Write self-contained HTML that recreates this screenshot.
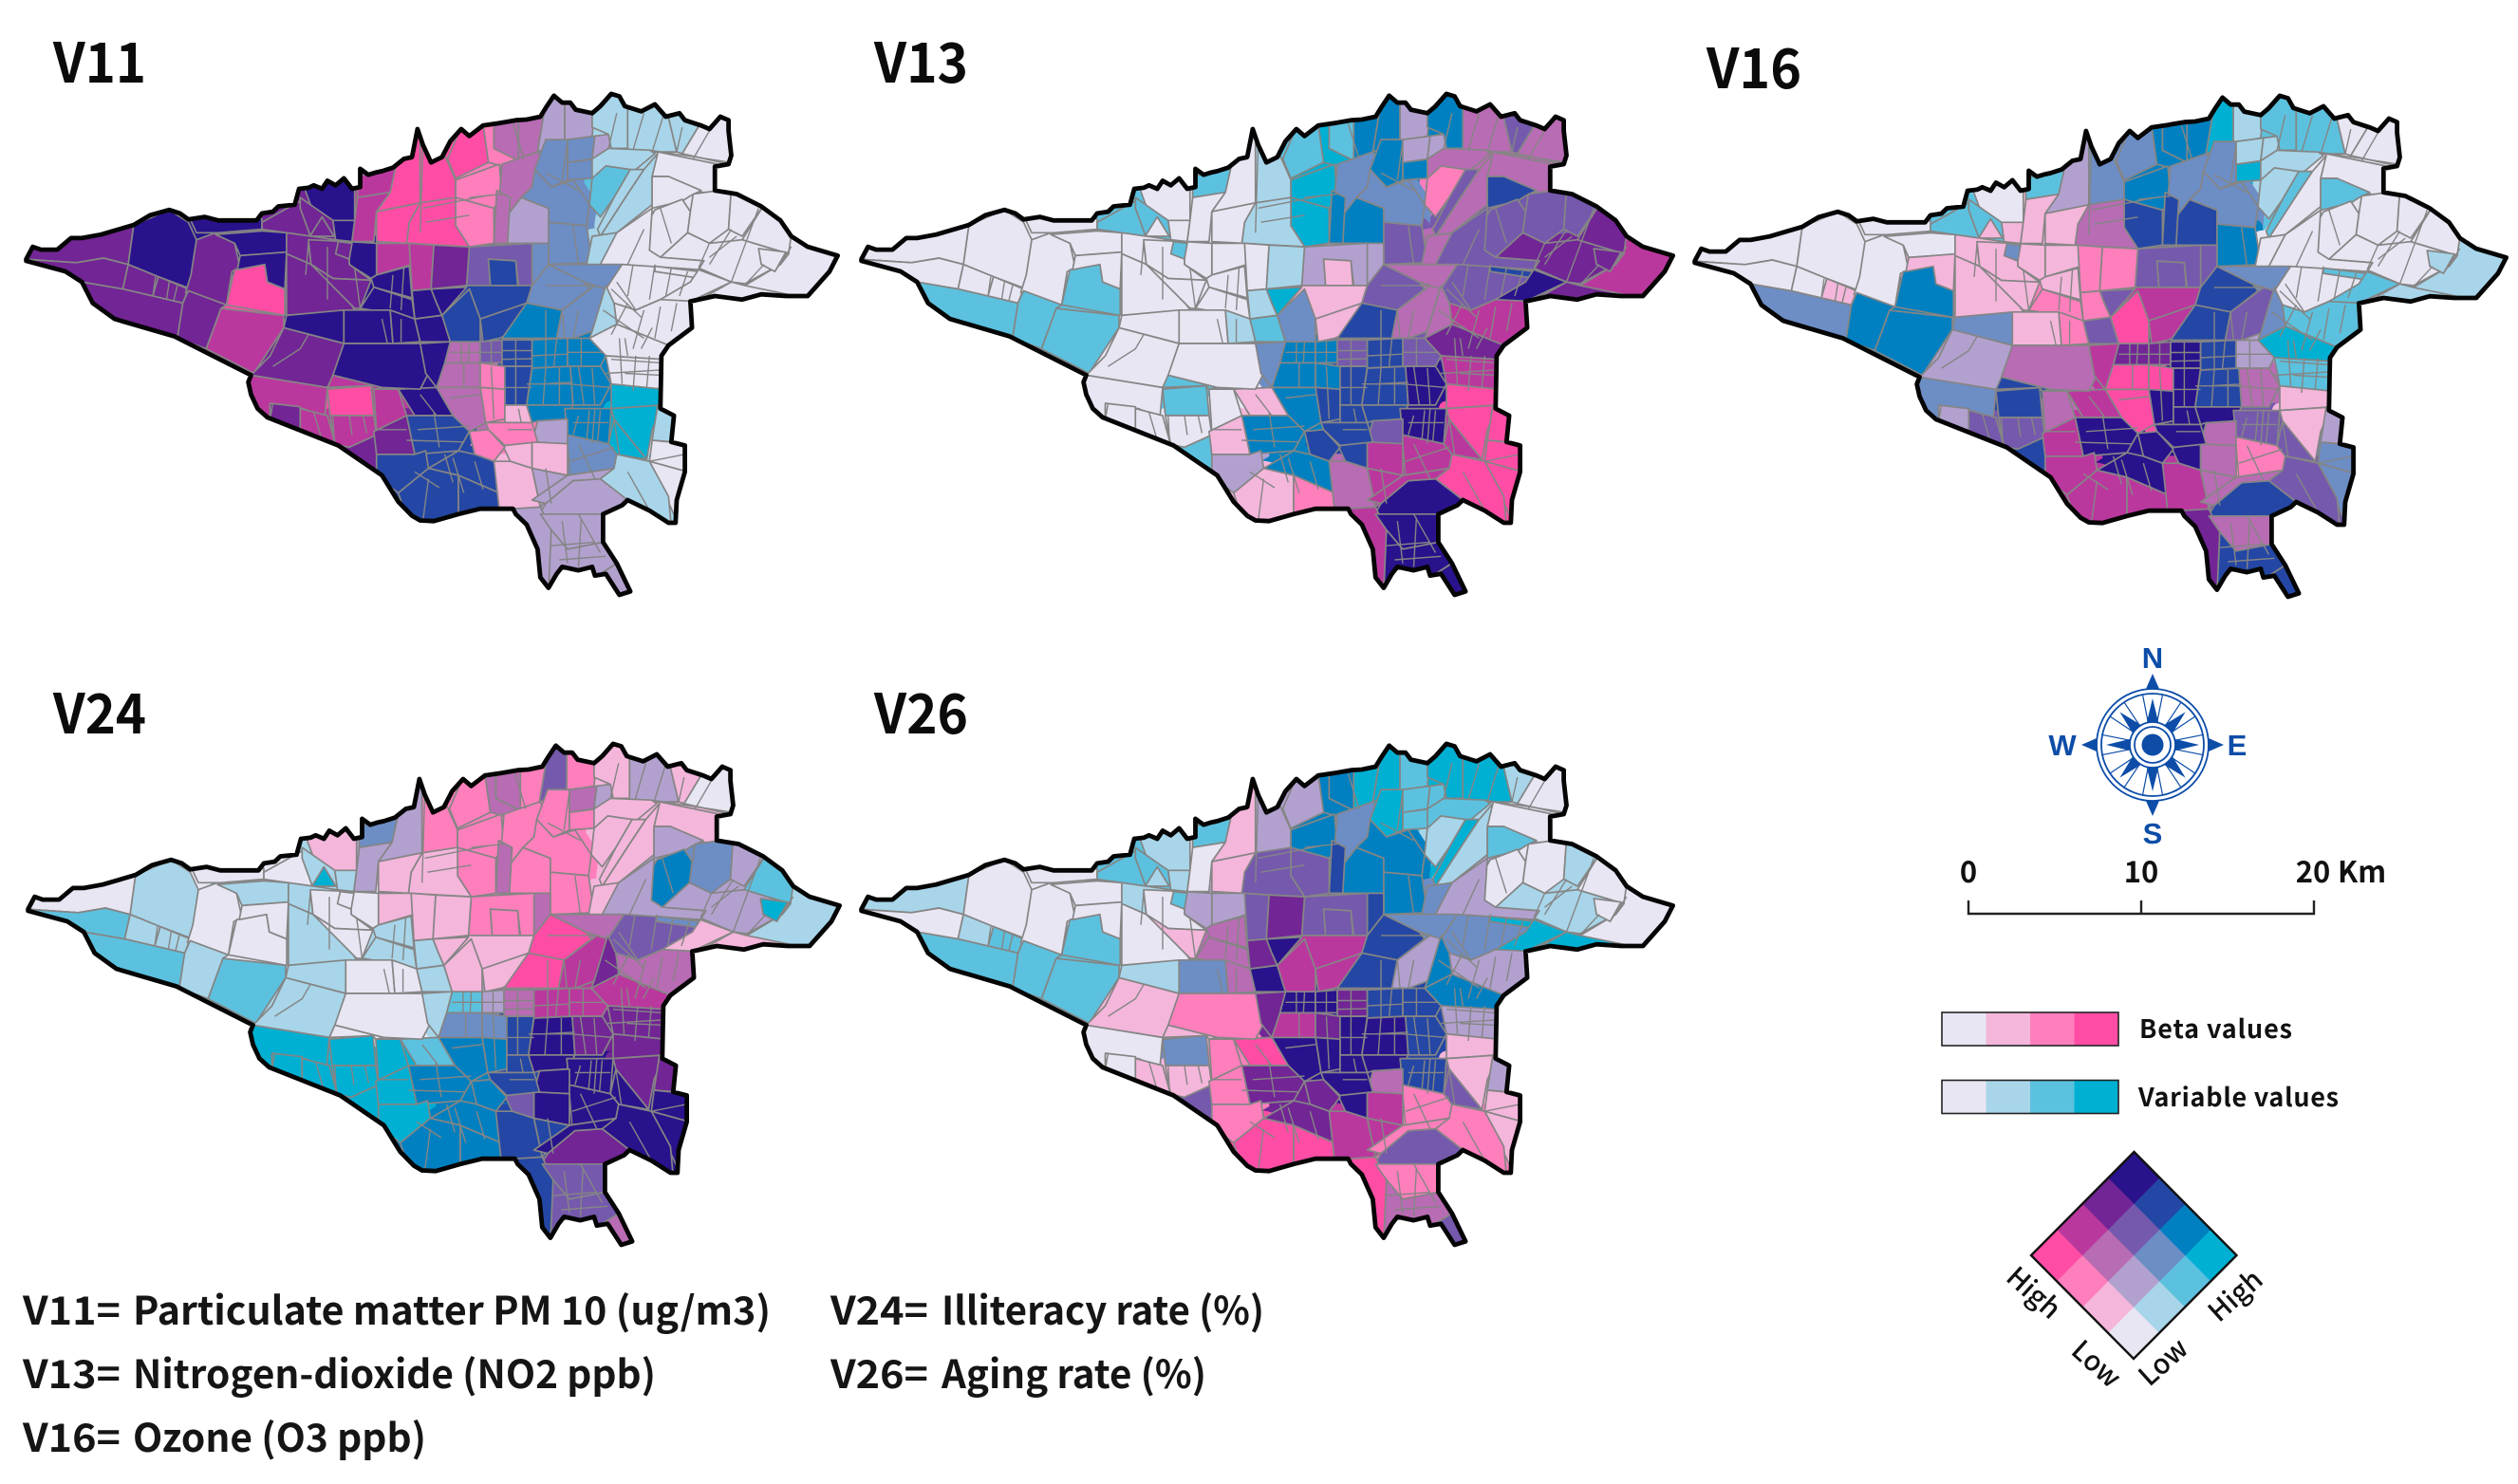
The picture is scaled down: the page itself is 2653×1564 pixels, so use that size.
<!DOCTYPE html>
<html lang="en">
<head>
<meta charset="utf-8">
<title>Bivariate maps of beta values and variable values</title>
<style>
html,body{margin:0;padding:0;background:#fff;}
svg{display:block;}
.title{font-family:"Noto Sans CJK JP","Liberation Sans",sans-serif;font-size:58px;font-weight:700;fill:#0b0b0b;}
.note{font-family:"Noto Sans CJK JP","Liberation Sans",sans-serif;font-size:41px;font-weight:700;fill:#151515;}
.scale{font-family:"Noto Sans CJK JP","Liberation Sans",sans-serif;font-size:31px;font-weight:700;fill:#111;}
.leg{font-family:"Noto Sans CJK JP","Liberation Sans",sans-serif;font-size:27px;font-weight:700;fill:#111;}
.axis{font-family:"Noto Sans CJK JP","Liberation Sans",sans-serif;font-size:29px;font-weight:500;fill:#111;}
.cp{font-family:"Liberation Sans",sans-serif;font-size:31px;font-weight:700;fill:#0d4da8;}
</style>
</head>
<body>
<svg id="figure" xmlns="http://www.w3.org/2000/svg" width="2653" height="1564" viewBox="0 0 2653 1564">
  <rect width="2653" height="1564" fill="#ffffff"/>
  <defs id="defs"></defs>
  <g id="maps"></g>

  <text class="title" x="56" y="87" textLength="98" lengthAdjust="spacingAndGlyphs">V11</text>
  <text class="title" x="921" y="87" textLength="99" lengthAdjust="spacingAndGlyphs">V13</text>
  <text class="title" x="1798" y="93" textLength="100" lengthAdjust="spacingAndGlyphs">V16</text>
  <text class="title" x="56" y="773" textLength="98" lengthAdjust="spacingAndGlyphs">V24</text>
  <text class="title" x="921" y="773" textLength="99" lengthAdjust="spacingAndGlyphs">V26</text>

  <text class="note" y="1396"><tspan x="24" textLength="103" lengthAdjust="spacingAndGlyphs">V11=</tspan> <tspan x="140" textLength="672" lengthAdjust="spacingAndGlyphs">Particulate matter PM 10 (ug/m3)</tspan></text>
  <text class="note" y="1463"><tspan x="24" textLength="103" lengthAdjust="spacingAndGlyphs">V13=</tspan> <tspan x="140" textLength="551" lengthAdjust="spacingAndGlyphs">Nitrogen-dioxide (NO2 ppb)</tspan></text>
  <text class="note" y="1530"><tspan x="24" textLength="103" lengthAdjust="spacingAndGlyphs">V16=</tspan> <tspan x="140" textLength="309" lengthAdjust="spacingAndGlyphs">Ozone (O3 ppb)</tspan></text>
  <text class="note" y="1396"><tspan x="875" textLength="103" lengthAdjust="spacingAndGlyphs">V24=</tspan> <tspan x="992" textLength="340" lengthAdjust="spacingAndGlyphs">Illiteracy rate (%)</tspan></text>
  <text class="note" y="1463"><tspan x="875" textLength="103" lengthAdjust="spacingAndGlyphs">V26=</tspan> <tspan x="992" textLength="279" lengthAdjust="spacingAndGlyphs">Aging rate (%)</tspan></text>

  <g id="compass"></g>
  <text class="cp" x="2268" y="704" text-anchor="middle">N</text>
  <text class="cp" x="2268" y="889" text-anchor="middle">S</text>
  <text class="cp" x="2173" y="796" text-anchor="middle">W</text>
  <text class="cp" x="2357" y="796" text-anchor="middle">E</text>

  <g>
    <path d="M2074 949V963H2438V949M2256 949V963" fill="none" stroke="#222" stroke-width="2.4"/>
    <text class="scale" x="2074" y="930" text-anchor="middle">0</text>
    <text class="scale" x="2256" y="930" text-anchor="middle">10</text>
    <text class="scale" x="2437" y="930" text-anchor="middle">20</text>
    <text class="scale" x="2463" y="930">Km</text>
  </g>

  <g id="legendBars"></g>
  <text class="leg" x="2254" y="1094" textLength="161" lengthAdjust="spacing">Beta values</text>
  <text class="leg" x="2253" y="1166" textLength="211" lengthAdjust="spacing">Variable values</text>

  <g id="legendDiamond"></g>
  <text class="axis" text-anchor="middle" transform="translate(2136 1370) rotate(42)">High</text>
  <text class="axis" text-anchor="middle" transform="translate(2202 1445) rotate(42)">Low</text>
  <text class="axis" text-anchor="middle" transform="translate(2286 1443) rotate(-42)">Low</text>
  <text class="axis" text-anchor="middle" transform="translate(2362 1373) rotate(-42)">High</text>
</svg>

<script>
/* Bivariate class of each district per map: tens digit = beta class (0-3), ones digit = variable class (0-3). */
const v11Classes = [
32,32,33,32,32,32,32,32,31,30,
33,33,33,32,33,32,32,33,31,31,
30,30,30,20,21,21,20,20,30,30,
21,11,21,11,11,12,12,12,11,1,
1,1,0,1,2,1,0,1,0,0,
0,0,0,0,0,0,0,12,12,1,
12,22,23,23,31,31,32,33,32,32,
32,32,32,33,33,33,33,33,33,33,
33,23,23,12,13,12,12,0,0,0,
0,0,1,0,0,3,21,22,23,13,
13,21,20,23,13,13,20,10,13,13,
3,1,3,0,0,1,11,12,10,10,
20,20,21,33,23,23,23,23,23,10,
11,11,11,11,11,11,11,31,32,31,
30,31,31,32,32,32,33,33,31];
const v13Classes = [
0,0,0,0,0,2,0,2,2,2,
0,0,0,2,0,2,0,0,2,0,
0,1,2,3,2,13,3,3,1,0,
12,13,13,13,11,13,11,13,11,13,
21,22,21,21,20,22,21,21,23,22,
22,22,32,31,32,32,22,12,22,21,
11,11,10,10,0,0,1,0,0,0,
2,0,0,0,0,1,3,0,0,1,
2,12,10,22,23,21,21,22,23,33,
32,31,21,32,31,30,13,13,22,23,
22,13,13,23,23,33,23,23,23,33,
30,30,31,30,30,30,22,31,23,31,
23,23,13,10,13,11,13,10,20,21,
31,33,31,31,33,33,33,0,0,0,
2,0,0,2,10,0,0,12,2];
const v16Classes = [
0,0,0,0,10,12,0,13,13,13,
0,0,10,2,0,2,10,10,2,10,
11,12,12,13,13,13,13,23,21,10,
12,23,23,3,1,12,1,3,1,2,
2,0,0,1,1,2,0,0,2,0,
0,0,0,1,0,1,0,12,13,0,
22,22,22,31,10,20,20,10,10,10,
12,10,10,10,20,20,22,12,10,20,
22,30,31,23,23,22,12,0,2,2,
1,2,12,3,2,10,32,32,33,23,
11,30,30,33,23,21,33,33,33,22,
10,11,22,12,12,22,21,20,33,21,
33,33,30,31,33,31,33,31,31,31,
21,23,21,32,21,23,23,12,11,22,
23,21,22,23,31,11,21,31,23];
const v24Classes = [
0,2,1,1,1,2,0,1,2,0,
0,1,0,0,10,1,3,1,12,11,
11,20,20,21,21,20,20,20,10,10,
20,20,21,22,20,20,21,20,11,10,
11,10,0,10,10,10,10,10,11,13,
12,11,2,1,11,3,11,20,20,10,
21,20,20,10,10,10,10,0,1,0,
0,1,0,1,1,1,10,1,0,0,
1,10,10,30,30,31,21,22,12,10,
10,21,32,31,32,32,2,11,21,31,
31,12,12,23,33,32,13,23,33,33,
32,32,33,33,33,33,33,33,22,33,
13,23,13,2,13,3,13,13,13,23,
23,32,33,23,22,22,21,3,3,3,
3,3,3,3,3,1,0,1,0];
const v26Classes = [
1,0,0,1,2,2,0,2,2,2,
0,0,0,2,1,2,1,1,2,0,
10,11,11,13,13,3,13,22,22,10,
12,13,23,3,2,3,2,2,2,3,
3,1,0,2,1,3,0,1,2,0,
0,1,0,0,1,0,11,13,13,12,
23,22,22,31,11,22,32,11,1,0,
2,0,10,21,21,32,33,1,12,21,
33,31,31,23,23,11,12,12,3,3,
3,11,13,13,11,10,33,33,32,23,
23,31,32,33,33,23,33,33,33,23,
10,11,22,10,10,20,21,20,33,31,
32,33,33,30,32,20,32,30,30,31,
31,22,20,30,20,21,22,0,0,10,
12,20,10,22,20,10,20,32,10];

/* Palette: bivariatePalette[beta][variable] */
const bivariatePalette = [
  ['#E8E6F3','#A8D5E9','#5CC1DE','#00B0D3'],
  ['#F4B6DB','#B2A1CF','#6D8DC5','#0080C0'],
  ['#FF7FBD','#B86CB3','#7559AD','#2447A5'],
  ['#FF4DA6','#BA389E','#722595','#2A128C']
];

/* Base-map geometry in map units, shared by all five panels. */
const mapOutline = "48,575 60,540 75,548 105,548 130,515 150,515 185,505 245,478 275,450 310,435 330,445 345,462 375,455 400,465 470,465 480,445 500,440 510,425 540,420 548,375 565,372 575,365 590,375 600,352 615,365 630,345 645,375 660,370 660,318 675,335 690,328 700,325 720,315 740,290 755,285 765,205 775,250 790,300 810,285 825,240 845,205 860,225 885,195 915,188 945,180 965,178 990,170 1000,145 1015,110 1030,130 1045,130 1055,150 1085,160 1100,140 1120,105 1135,112 1145,140 1175,155 1200,135 1220,170 1245,160 1255,180 1285,195 1300,205 1320,170 1335,180 1335,210 1340,280 1335,305 1310,312 1310,380 1350,390 1395,425 1430,465 1450,510 1480,540 1535,565 1520,610 1480,680 1440,680 1395,675 1360,690 1310,680 1265,695 1268,770 1225,820 1212,850 1210,1000 1235,1020 1230,1095 1255,1105 1255,1180 1240,1260 1238,1325 1225,1325 1190,1290 1150,1260 1140,1275 1105,1300 1105,1380 1130,1440 1155,1520 1135,1530 1110,1470 1090,1475 1085,1450 1060,1460 1030,1450 1020,1470 1005,1510 990,1480 985,1400 965,1330 945,1300 940,1285 880,1285 840,1300 795,1320 770,1318 755,1305 730,1265 700,1190 620,1105 490,1025 472,1000 460,960 455,925 460,905 320,795 210,745 170,700 150,640 120,610 48,580";

const districtShapes = [
"0,480 245,478 235,590 190,572 140,585 40,575","40,575 140,585 190,572 235,590 225,660 150,640 40,600","245,478 310,435 345,470 360,520 350,660 290,625 235,590","235,590 290,625 280,680 225,660","290,625 345,660 335,700 280,680","150,640 225,660 335,700 325,800 210,750 170,700","360,520 395,500 430,530 440,600 425,610 415,705 340,670 350,620","335,700 345,665 415,705 405,715 378,830 325,800","405,715 520,735 520,770 465,900 378,830","430,605 485,590 490,640 522,660 522,735 415,705",
"345,450 400,450 480,460 480,490 400,500 360,500","395,505 480,495 525,500 525,555 440,565 430,530","440,565 525,555 522,660 490,640 485,590 435,605","480,470 550,410 570,510 525,500 480,490","550,340 650,340 650,465 610,465 570,425","550,400 610,465 615,520 570,515 550,430","590,455 612,510 568,510","610,465 650,465 645,525 615,520","655,345 730,280 715,385 655,400","655,400 715,385 690,440 685,525 645,525 650,465",
"730,280 755,200 770,200 770,415 690,440 715,385","770,200 790,300 815,280 835,350 835,405 770,415","820,290 845,200 885,190 895,300 835,345","885,190 905,180 905,260 950,295 920,310 895,300","905,180 950,170 950,295 905,260","950,170 1000,130 985,270 950,295","835,350 915,305 920,400 905,430 835,400","835,400 905,430 905,530 860,540 835,480","770,415 835,400 835,480 860,540 745,530 750,470","690,440 770,415 750,470 745,530 690,525",
"920,305 985,270 1000,300 975,370 955,400 910,490","955,400 1005,430 1005,530 905,530 910,490","910,380 935,400 930,530 905,530","1000,130 1035,100 1035,235 985,270","1035,100 1090,150 1085,225 1035,240","1000,235 1040,235 1040,350 1010,370 980,320","1040,235 1090,225 1085,290 1040,300","1040,300 1090,290 1085,345 1040,350","1090,225 1115,220 1120,260 1085,290","1085,150 1120,90 1150,130 1150,260 1120,260 1115,220 1085,200",
"1150,130 1220,140 1240,270 1150,270","1220,140 1285,185 1250,275 1240,270","1285,185 1320,160 1350,190 1350,310 1250,275","1115,260 1190,265 1200,275 1165,320 1110,350 1085,345 1085,290","1085,345 1110,310 1155,320 1125,400 1100,455 1080,420","1125,400 1155,320 1180,320 1150,390 1100,510 1095,490","1205,270 1315,305 1310,385 1270,385 1225,340 1195,340","1180,320 1205,275 1195,340 1195,420 1130,500 1100,510 1150,390","1195,340 1225,340 1285,380 1265,395 1250,410 1195,430","1200,435 1250,405 1265,440 1260,500 1210,570 1190,550 1180,490",
"1270,390 1340,375 1335,490 1300,530 1260,500 1265,440","1340,375 1400,420 1360,510 1335,490","1400,420 1460,510 1445,560 1360,520","1450,505 1550,565 1490,690 1365,685 1365,650 1430,590 1445,560","1210,570 1260,500 1300,530 1360,520 1445,560 1430,590 1365,645 1340,640 1280,600 1290,580","1390,545 1440,555 1420,610 1395,590","1130,500 1195,430 1190,550 1210,570 1290,580 1280,605 1140,590 1100,590 1090,510","980,320 1010,370 1050,350 1080,420 1075,480 1005,470 1005,430 955,400 975,370","1005,470 1075,480 1085,585 1005,590","1085,510 1130,500 1100,590 1075,590",
"975,530 1005,530 1005,590 975,650","860,540 975,530 975,650 950,650 945,580 895,575 900,680 855,650","895,575 945,580 950,680 900,680","855,650 975,650 965,700 915,760 880,745 810,740","690,530 750,530 755,590 690,620","750,530 795,535 790,660 755,665","795,535 860,540 855,650 790,660","640,525 690,530 690,620 680,630 640,590","525,500 615,520 565,530 570,590 525,560","565,520 640,525 640,590 680,635 610,630 570,590",
"620,525 645,530 640,575 615,560","525,560 570,590 630,670 650,720 525,735","570,590 610,630 680,635 660,715 650,715","680,630 690,620 750,595 755,685 685,655","660,715 685,655 755,690 760,745 680,720","755,665 790,660 800,700 810,735 760,745","790,660 855,655 810,735 800,700","525,735 630,720 630,815 520,770","630,720 715,720 720,815 630,815","715,720 760,745 770,810 720,815",
"760,745 810,735 825,810 770,810","810,735 860,660 880,745 880,810 825,810","880,745 965,700 960,770 915,800 885,810","1005,590 1070,640 1080,660 1030,720 965,700 975,650","965,700 1030,720 1020,800 920,800","1030,720 1090,650 1110,650 1085,780 1050,800 1020,800","1075,590 1140,590 1110,660 1090,650 1070,640 1005,590","1140,590 1280,605 1265,640 1210,690 1165,720 1125,700 1110,660","1200,595 1280,610 1275,628 1200,610","1280,605 1340,640 1265,695 1230,700 1210,690 1265,640",
"1340,640 1365,650 1490,690 1360,705 1265,705","1125,700 1165,720 1210,690 1275,695 1275,770 1225,820 1130,760","1085,780 1110,650 1125,700 1130,760 1080,800","1080,800 1130,760 1225,820 1212,860 1110,850","1110,850 1215,860 1215,945 1120,930","1120,930 1215,945 1215,990 1120,1000","825,810 880,810 880,870 815,870","880,810 920,805 920,870 880,870","920,805 975,805 975,880 920,880","975,805 1040,800 1040,880 975,885",
"1040,800 1080,800 1110,850 1100,880 1040,880","815,870 880,870 880,940 800,940","880,870 925,880 925,945 880,940","925,880 975,880 965,990 925,990","975,885 1045,880 1050,990 965,990","1045,880 1100,880 1120,930 1100,990 1050,990","880,940 925,945 925,1030 890,1040","925,990 965,990 975,1040 925,1040","965,990 1050,990 1035,1030 985,1035 975,1040","1035,1000 1120,1000 1115,1100 1040,1075",
"1120,1000 1215,990 1195,1060 1185,1145 1125,1030","1205,990 1245,1020 1235,1095 1195,1090","1125,1030 1185,1145 1130,1130 1115,1100","1195,1090 1260,1100 1260,1180 1190,1150","1190,1150 1260,1180 1245,1335 1220,1250","1100,1200 1130,1130 1190,1150 1225,1250 1230,1335 1150,1260","985,1035 1040,1030 1040,1100 975,1095","1040,1075 1115,1100 1130,1130 1125,1170 1040,1190","920,1100 975,1095 975,1170 935,1150","975,1095 1040,1100 1040,1190 975,1170",
"860,1065 895,1060 925,1110 905,1150 870,1130","890,1040 975,1040 985,1095 925,1105 895,1060","800,940 880,940 890,1040 860,1065 830,1020","730,945 800,940 830,1020 760,1020","745,1020 830,1020 860,1065 840,1120 760,1130","690,1130 760,1130 780,1120 785,1170 730,1240 680,1180","785,1170 840,1120 870,1130 905,1150 915,1240 840,1190","730,1240 785,1170 840,1190 840,1330 795,1330 745,1310","840,1190 915,1240 940,1295 840,1310","905,1150 935,1150 975,1170 990,1280 915,1290",
"975,1170 1040,1190 990,1280","1000,1270 1050,1205 1100,1200 1150,1260 1100,1310 985,1310","1040,1190 1125,1170 1100,1200 1050,1205 1000,1270 975,1260","940,1285 990,1280 1010,1345 1010,1520 985,1520 960,1330","990,1300 1110,1300 1105,1380 1040,1400 1010,1345","1010,1345 1040,1400 1105,1380 1130,1440 1090,1480 1030,1460 1005,1520","1105,1380 1165,1530 1130,1540 1090,1480 1130,1440","450,900 600,940 595,1025 555,1000 495,990 495,1040 450,975","495,985 550,995 550,1060 495,1030","550,1000 600,1020 615,1105 550,1060",
"600,945 680,935 685,1020 605,1020","685,945 730,945 745,1020 705,1060 690,1065","605,1020 685,1020 690,1075 640,1110 615,1105","610,1100 640,1110 690,1075 690,1180","685,1065 745,1020 760,1130 690,1130","520,770 630,815 610,910 600,940 460,905 495,850","630,815 770,815 785,900 770,945 700,940 610,905","770,815 825,810 815,870 800,940 780,900","600,940 610,905 700,940 685,945 680,935"
];

const minorRoads = [
"48,575 140,585 190,572 235,590","285,625 280,680","310,640 305,690","325,650 318,695",
"1160,590 1150,680","1200,590 1190,690","1230,600 1220,680","1260,610 1245,680","1130,640 1165,720",
"1150,700 1120,790","1180,720 1160,830","1210,710 1200,800","1135,800 1140,930","1165,850 1160,950","1190,850 1185,940","1110,900 1215,890",
"1300,530 1280,600","1340,490 1300,590","1390,430 1340,640","1350,510 1300,570","1400,590 1370,640","1450,540 1420,610",
"1180,490 1150,590","1210,430 1230,530","1130,160 1115,260","1180,160 1160,265","1215,170 1195,270","1250,200 1240,270","1300,210 1270,290","1190,265 1340,300",
"940,190 960,290","1040,240 1030,350","1000,330 1060,380","1050,480 1060,590",
"775,250 770,500","860,400 920,390","775,430 890,395","780,470 860,450",
"1000,650 1090,650","1030,720 1035,800","1000,720 1000,800","1060,720 1050,800",
"1060,880 1070,990","1085,885 1090,990","1040,930 1120,940","1060,1020 1050,1075","1080,1005 1075,1090","1100,1005 1095,1095",
"990,930 1050,925","945,880 945,990","975,940 925,940","900,880 905,1030","850,870 850,940","825,970 880,960",
"770,960 800,1020","765,1060 860,1050","745,1090 850,1095","795,1010 805,1110",
"785,1200 775,1320","830,1140 850,1240","870,1150 885,1230","1000,1170 1010,1270",
"1060,1100 1090,1200","1125,1030 1135,1130","1045,1150 1125,1110","1190,1150 1255,1130",
"1030,1320 1040,1440","1065,1310 1060,1450","1010,1390 1090,1380","1025,1430 1110,1420","1060,1300 1100,1410",
"565,530 560,620","600,690 600,540","650,600 660,715","720,620 715,715","740,600 735,720",
"700,745 710,815","735,745 735,810","500,880 550,830 565,790","610,1020 612,1080","640,1020 645,1075","665,1020 672,1070",
"500,985 495,1030","575,1010 590,1090","690,1060 745,1060",
"845,810 845,870","860,810 858,870","900,810 900,870","945,805 945,880","1000,805 1000,885","1020,800 1015,880","1065,800 1065,880",
"920,835 975,835","920,860 975,858","975,850 1040,845","1040,840 1105,840","825,840 920,840",
"1000,885 995,990","1025,885 1025,990","965,930 1045,930","1120,860 1210,870","1145,900 1210,905","1150,850 1145,800","1175,830 1195,770",
"1105,720 1180,800","1120,660 1175,740","1240,700 1230,780","1090,1000 1085,1100","1050,1040 1115,1040",
"950,1000 955,1040","930,1060 975,1060","815,1130 830,1210","760,1180 805,1225","1040,1100 1045,1190","1150,1180 1190,1290"
];

const mapPanels = [
  {key:'v11', values:v11Classes, dx:0,    dy:0},
  {key:'v13', values:v13Classes, dx:880,  dy:0},
  {key:'v16', values:v16Classes, dx:1758, dy:2},
  {key:'v24', values:v24Classes, dx:2,    dy:685},
  {key:'v26', values:v26Classes, dx:880,  dy:685}
];

const SVGNS = 'http://www.w3.org/2000/svg';
const mapScaleX = 0.575, mapScaleY = 0.3706, mapOriginY = 60;
function xAxis(u, panel){ return panel.dx + u * mapScaleX; }
function yAxis(v, panel){ return mapOriginY + panel.dy + v * mapScaleY; }
function project(points, panel){
  return points.split(' ').map(function(p){
    const c = p.split(',');
    return xAxis(+c[0], panel).toFixed(1) + ',' + yAxis(+c[1], panel).toFixed(1);
  }).join(' ');
}
function classColor(code){ return bivariatePalette[Math.floor(code / 10)][code % 10]; }
function make(tag, parent){
  const el = document.createElementNS(SVGNS, tag);
  parent.appendChild(el);
  return el;
}

const defsEl = document.getElementById('defs');
const mapsEl = document.getElementById('maps');
mapPanels.forEach(function(panel){
  const clip = make('clipPath', defsEl);
  clip.setAttribute('id', 'clip-' + panel.key);
  const clipShape = make('polygon', clip);
  clipShape.setAttribute('points', project(mapOutline, panel));

  const group = make('g', mapsEl);
  
  
  group.setAttribute('clip-path', 'url(#clip-' + panel.key + ')');

  const base = make('polygon', group);
  
  
  base.setAttribute('points', project(mapOutline, panel));
  base.setAttribute('fill', bivariatePalette[0][0]);

  /* Colour underlay closes small slivers between hand-traced district shapes. */
  districtShapes.forEach(function(shape, i){
    const u = make('polygon', group);
    
    
    u.setAttribute('points', project(shape, panel));
    u.setAttribute('fill', classColor(panel.values[i]));
    u.setAttribute('stroke', classColor(panel.values[i]));
    u.setAttribute('stroke-width', '16');
    u.setAttribute('stroke-linejoin', 'round');
  });

  districtShapes.forEach(function(shape, i){
    const d = make('polygon', group);
    
    
    d.setAttribute('points', project(shape, panel));
    d.setAttribute('fill', classColor(panel.values[i]));
    d.setAttribute('stroke', '#858585');
    d.setAttribute('stroke-width', '1.7');
    d.setAttribute('stroke-linejoin', 'round');
  });

  minorRoads.forEach(function(road){
    const r = make('polyline', group);
    
    
    r.setAttribute('points', project(road, panel));
    r.setAttribute('fill', 'none');
    r.setAttribute('stroke', '#858585');
    r.setAttribute('stroke-width', '1.4');
  });

  const outline = make('polygon', mapsEl);
  
  
  outline.setAttribute('points', project(mapOutline, panel));
  outline.setAttribute('fill', 'none');
  outline.setAttribute('stroke', '#050505');
  outline.setAttribute('stroke-width', '4.8');
  outline.setAttribute('stroke-linejoin', 'round');
});

/* Compass */
const compassEl = document.getElementById('compass');
const cx = 2268, cy = 785, blue = '#0d4da8';
[59, 54].forEach(function(r){
  const c = make('circle', compassEl);
  
  
  c.setAttribute('cx', cx); c.setAttribute('cy', cy); c.setAttribute('r', r);
  c.setAttribute('fill', 'none'); c.setAttribute('stroke', blue); c.setAttribute('stroke-width', '1.8');
});
for (let k = 0; k < 16; k++){
  const a = (k + 0.5) * Math.PI / 8;
  const l = make('line', compassEl);
  
  
  l.setAttribute('x1', cx + 20 * Math.cos(a)); l.setAttribute('y1', cy + 20 * Math.sin(a));
  l.setAttribute('x2', cx + 54 * Math.cos(a)); l.setAttribute('y2', cy + 54 * Math.sin(a));
  l.setAttribute('stroke', blue); l.setAttribute('stroke-width', '1.2');
}
for (let k = 0; k < 8; k++){
  const a = k * Math.PI / 4, s = Math.PI / 2;
  const tip = 49, w = 9;
  const spike = make('polygon', compassEl);
  
  
  spike.setAttribute('points', [
    [cx + tip * Math.cos(a), cy + tip * Math.sin(a)],
    [cx + 12 * Math.cos(a) + w * Math.cos(a + s), cy + 12 * Math.sin(a) + w * Math.sin(a + s)],
    [cx + 12 * Math.cos(a) - w * Math.cos(a + s), cy + 12 * Math.sin(a) - w * Math.sin(a + s)]
  ].map(function(p){ return p[0].toFixed(1) + ',' + p[1].toFixed(1); }).join(' '));
  spike.setAttribute('fill', blue);
}
for (let k = 0; k < 4; k++){
  const a = k * Math.PI / 2, s = Math.PI / 2;
  const arrow = make('polygon', compassEl);
  
  
  arrow.setAttribute('points', [
    [cx + 75 * Math.cos(a), cy + 75 * Math.sin(a)],
    [cx + 59 * Math.cos(a) + 7 * Math.cos(a + s), cy + 59 * Math.sin(a) + 7 * Math.sin(a + s)],
    [cx + 59 * Math.cos(a) - 7 * Math.cos(a + s), cy + 59 * Math.sin(a) - 7 * Math.sin(a + s)]
  ].map(function(p){ return p[0].toFixed(1) + ',' + p[1].toFixed(1); }).join(' '));
  arrow.setAttribute('fill', blue);
}
[[24, '#ffffff', blue, 1.8], [19, '#ffffff', blue, 1.8], [11, blue, blue, 1]].forEach(function(ring){
  const c = make('circle', compassEl);
  
  
  c.setAttribute('cx', cx); c.setAttribute('cy', cy); c.setAttribute('r', ring[0]);
  c.setAttribute('fill', ring[1]); c.setAttribute('stroke', ring[2]); c.setAttribute('stroke-width', ring[3]);
});

/* Ramp legends */
const legendBars = document.getElementById('legendBars');
const betaRamp = [bivariatePalette[0][0], bivariatePalette[1][0], bivariatePalette[2][0], bivariatePalette[3][0]];
const variableRamp = bivariatePalette[0];
[[betaRamp, 1067, 'beta'], [variableRamp, 1138.5, 'variable']].forEach(function(row){
  row[0].forEach(function(color, i){
    const s = make('rect', legendBars);
    
    
    s.setAttribute('x', 2046 + i * 46.5); s.setAttribute('y', row[1]);
    s.setAttribute('width', 46.5); s.setAttribute('height', 35);
    s.setAttribute('fill', color);
  });
  const frame = make('rect', legendBars);
  
  
  frame.setAttribute('x', 2046); frame.setAttribute('y', row[1]);
  frame.setAttribute('width', 186); frame.setAttribute('height', 35);
  frame.setAttribute('fill', 'none'); frame.setAttribute('stroke', '#222'); frame.setAttribute('stroke-width', '1.6');
});

/* Bivariate diamond legend */
const diamondEl = document.getElementById('legendDiamond');
const dBottom = [2248, 1432], dLeft = [2140, 1323], dRight = [2356.5, 1323];
function diamondPoint(b, v){
  return [
    dBottom[0] + (b / 4) * (dLeft[0] - dBottom[0]) + (v / 4) * (dRight[0] - dBottom[0]),
    dBottom[1] + (b / 4) * (dLeft[1] - dBottom[1]) + (v / 4) * (dRight[1] - dBottom[1])
  ];
}
bivariatePalette.forEach(function(row, b){
  row.forEach(function(color, v){
    const cell = make('polygon', diamondEl);
    
    
    cell.setAttribute('points', [diamondPoint(b, v), diamondPoint(b + 1, v), diamondPoint(b + 1, v + 1), diamondPoint(b, v + 1)].map(function(p){ return p.join(','); }).join(' '));
    cell.setAttribute('fill', color);
    cell.setAttribute('stroke', color);
    cell.setAttribute('stroke-width', '0.5');
  });
});
const diamondFrame = make('polygon', diamondEl);


diamondFrame.setAttribute('points', [diamondPoint(0, 0), diamondPoint(4, 0), diamondPoint(4, 4), diamondPoint(0, 4)].map(function(p){ return p.join(','); }).join(' '));
diamondFrame.setAttribute('fill', 'none');
diamondFrame.setAttribute('stroke', '#111');
diamondFrame.setAttribute('stroke-width', '2.4');
</script>
</body>
</html>
